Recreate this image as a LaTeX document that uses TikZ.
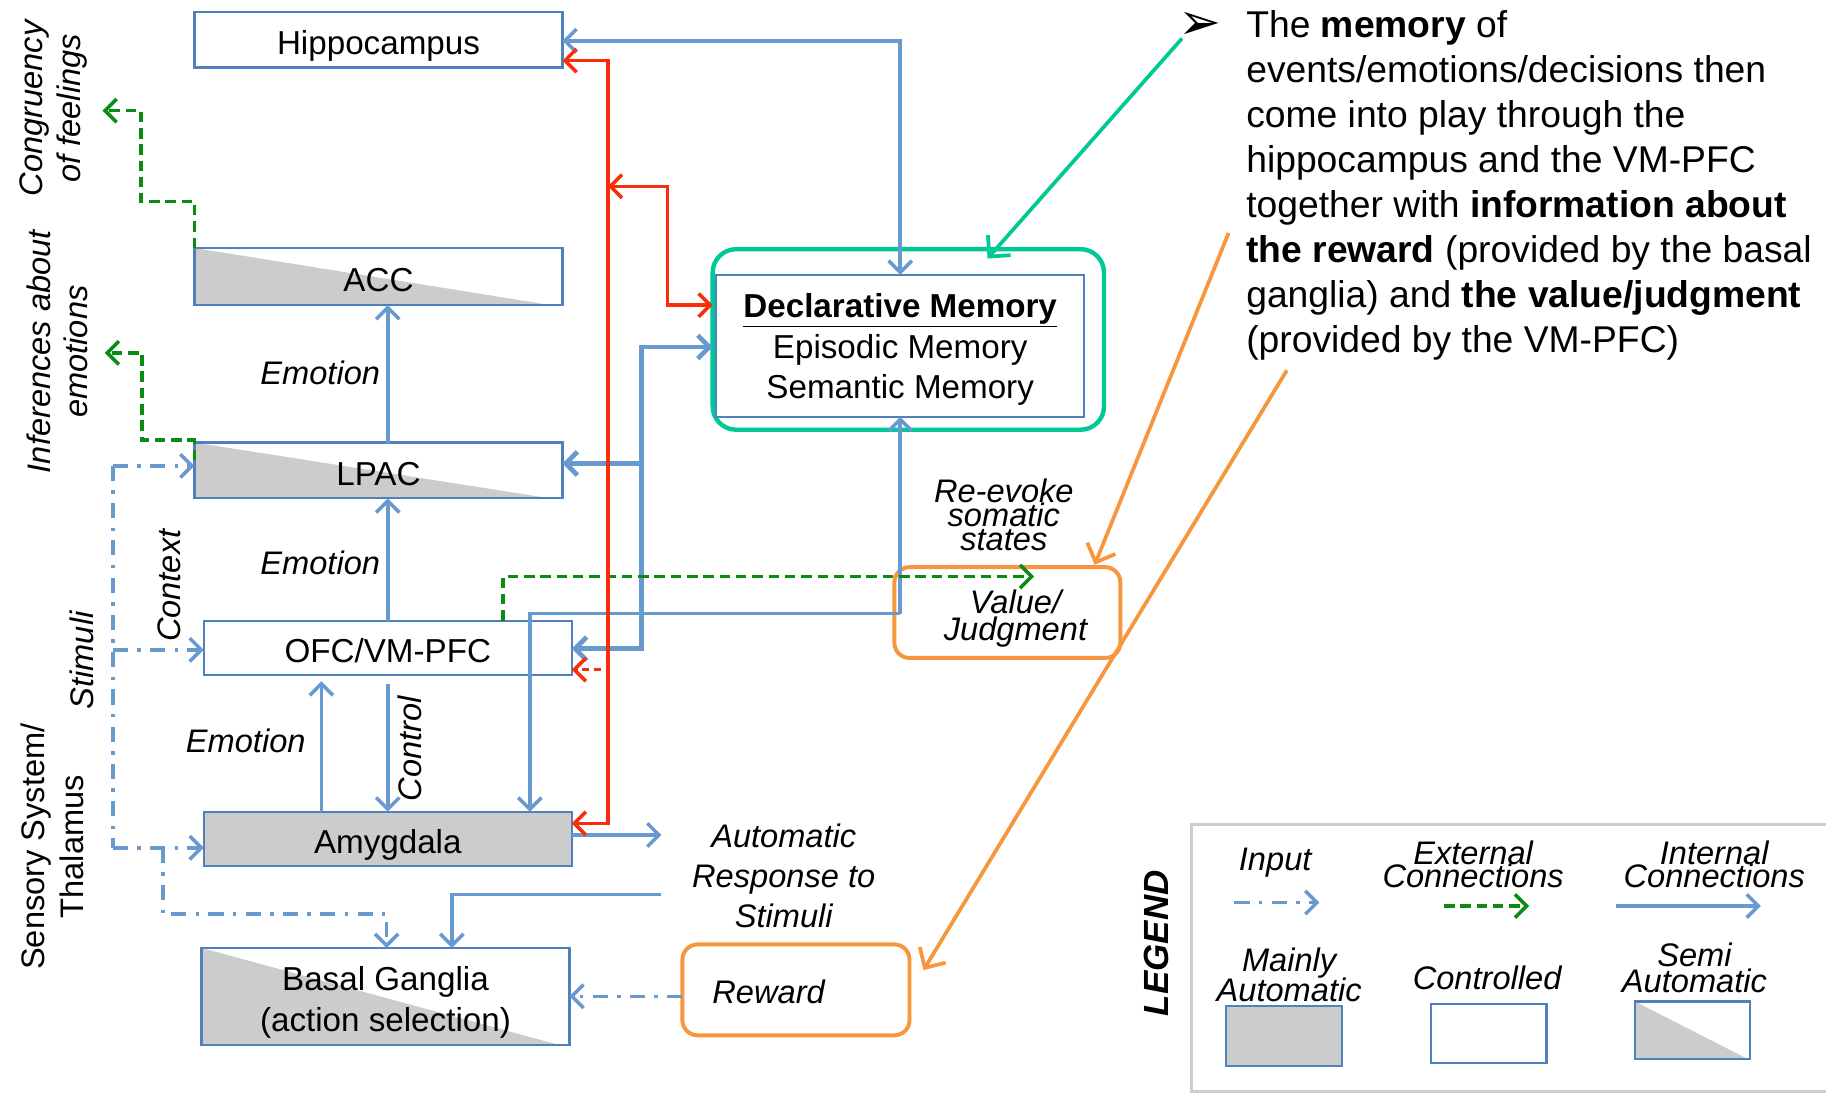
\documentclass[tikz,border=0pt]{standalone}
\usepackage{fontspec}
\setmainfont{Liberation Sans}
\newfontfamily\symfont{DejaVu Sans}
\usetikzlibrary{arrows.meta}
\definecolor{boxblue}{RGB}{79,129,189}
\definecolor{lineblue}{RGB}{104,153,207}
\definecolor{shadegray}{RGB}{204,204,204}
\definecolor{redline}{RGB}{250,45,10}
\definecolor{greenline}{RGB}{10,140,20}
\definecolor{tealline}{RGB}{0,201,150}
\definecolor{orangeline}{RGB}{247,150,60}
\definecolor{leggray}{RGB}{205,205,205}
\tikzset{
  >={Straight Barb[length=10pt,width=20pt]},
  box/.style={draw=boxblue, line width=1.8pt, minimum width=316pt, inner sep=0pt, outer sep=0pt, align=center, font=\fontsize{28.5}{35}\selectfont},
  oneline/.style={text height=27pt, text depth=2pt},
  ctrlbox/.style={box, fill=white},
  autobox/.style={box, fill=shadegray},
  semibox/.style={box, fill=white, path picture={\fill[shadegray] (path picture bounding box.north west) -- (path picture bounding box.south west) -- ([xshift=-#1]path picture bounding box.south east) -- cycle;}},
  semibox/.default=10pt,
  orbox/.style={draw=orangeline, line width=3.4pt, rounded corners=13pt, inner sep=0pt, outer sep=0pt},
  bconn/.style={draw=lineblue, line width=3pt},
  bthick/.style={draw=lineblue, line width=4pt},
  rconn/.style={draw=redline, line width=3pt},
  gconn/.style={draw=greenline, line width=3pt, dash pattern=on 9pt off 5pt},
  inconn/.style={draw=lineblue, line width=3pt, dash pattern=on 13pt off 8pt on 3pt off 8pt},
  pointer/.style={line width=3.2pt, -{Straight Barb[length=13pt,width=26pt]}},
  lab/.style={inner sep=0pt, align=center, font=\itshape\fontsize{28}{34.5}\selectfont},
  tightlab/.style={inner sep=0pt, align=center, font=\itshape\fontsize{28}{#1}\selectfont},
  uplab/.style={inner sep=0pt, align=center, font=\fontsize{28}{34}\selectfont},
}
\begin{document}
\lineskiplimit=-100pt
\lineskip=0pt
\begin{tikzpicture}[x=1pt,y=-1pt]
\useasboundingbox (0,0) rectangle (1568,941);
\fill[white] (0,0) rectangle (1568,941);

% ---------- boxes ----------
\node[ctrlbox, oneline, minimum height=48pt] (hip) at (325,34) {Hippocampus};
\node[semibox, oneline, minimum height=49pt] (acc) at (325,237.5) {ACC};
\node[semibox, oneline, minimum height=48pt] (lpac) at (325,404) {LPAC};
\node[ctrlbox, oneline, minimum height=47pt] (ofc) at (333,556.5) {OFC/VM-PFC};
\node[autobox, oneline, minimum height=47pt] (amy) at (333,720.5) {Amygdala};
\node[semibox, minimum height=83pt] (bg) at (331,855.5) {\rule{0pt}{31pt}Basal Ganglia\\(action selection)};

\node[draw=tealline, line width=3.8pt, rounded corners=20pt, minimum width=336pt, minimum height=155pt, inner sep=0pt, outer sep=0pt] (dmg) at (780,291.5) {};
\node[ctrlbox, minimum height=122pt, font=\fontsize{28.5}{34.5}\selectfont] (dm) at (773,297) {\rule{0pt}{27pt}\underline{\textbf{Declarative Memory}}\\Episodic Memory\\Semantic Memory};

\node[orbox, minimum width=194pt, minimum height=78pt] (vj) at (865,526) {};
\node[tightlab=23] (vjt) at (872,531) {Value/\\Judgment};
\node[orbox, minimum width=195pt, minimum height=78pt] (rw) at (683.5,850) {};
\node[lab] (rwt) at (660,852) {Reward};

% ---------- labels ----------
\node[lab, rotate=90, font=\itshape\fontsize{28}{32}\selectfont] (congr) at (46,93) {Congruency\\of feelings};
\node[lab, rotate=90, font=\itshape\fontsize{28}{32}\selectfont] (infer) at (49,302) {Inferences about\\emotions};
\node[uplab, rotate=90] (sens) at (45,727) {Sensory System/\\Thalamus};
\node[lab, rotate=90] (stim) at (70,567) {Stimuli};
\node[lab, rotate=90] (ctx) at (145,503) {Context};
\node[lab, rotate=90] (ctl) at (352,643) {Control};
\node[lab] (em1) at (275,320) {Emotion};
\node[lab] (em2) at (275,483) {Emotion};
\node[lab] (em3) at (211,636) {Emotion};
\node[tightlab=20.5] (reev) at (862,442) {Re-evoke\\somatic\\states};
\node[lab] (auto) at (673,752) {Automatic\\Response to\\Stimuli};

% ---------- coordinates ----------
\coordinate (hdm) at (773,35);
\coordinate (rtop) at (522,52);
\coordinate (rbot) at (522,707);
\coordinate (rmid) at (522,160);
\coordinate (rb1) at (573,160);
\coordinate (rb2) at (573,262);
\coordinate (rofc) at (516,575);
\coordinate (bt) at (551,298);
\coordinate (bl) at (551,398);
\coordinate (bb) at (551,557);
\coordinate (vjc) at (773,527);
\coordinate (amyc) at (455,527);
\coordinate (e3) at (276,650);
\coordinate (autoa) at (568,717);
\coordinate (autob) at (568,768);
\coordinate (bgc) at (388,768);
\coordinate (in1) at (97,400);
\coordinate (in2) at (97,558);
\coordinate (in3) at (97,728);
\coordinate (in4) at (140,728);
\coordinate (in5) at (140,785);
\coordinate (in6) at (332,785);
\coordinate (g1a) at (167,173);
\coordinate (g1b) at (121,173);
\coordinate (g1c) at (121,95);
\coordinate (g1d) at (88,95);
\coordinate (g2s) at (167,395);
\coordinate (g2a) at (167,378);
\coordinate (g2b) at (122,378);
\coordinate (g2c) at (122,303);
\coordinate (g2d) at (90,303);
\coordinate (g3a) at (432,495);
\coordinate (g3d) at (888,495);

% ---------- blue connections ----------
\draw[bconn, <->] (hip.east |- hdm) -- (hdm) -- (dm.north);
\draw[bconn, ->] (lpac.north -| ofc.north) -- (acc.south -| ofc.north);
\draw[bconn, ->] (ofc.north) -- (lpac.south -| ofc.north);
\draw[bconn, ->, shorten >=5pt] (amy.north -| e3) -- (ofc.south -| e3);
\draw[bconn, ->, shorten <=7pt] (ofc.south) -- (amy.north);
\draw[bconn, ->] (vjc) -- (dm.south);
\draw[bconn, ->] (vjc) -- (amyc) -- (amy.north -| amyc);
\draw[bconn, ->] (amy.east |- autoa) -- (autoa);
\draw[bconn, ->] (autob) -- (bgc) -- (bg.north -| bgc);
\draw[bthick, <->] (ofc.east |- bb) -- (bb) -- (bt) -- (dmg.west |- bt);
\draw[bthick, ->] (bl) -- (lpac.east |- bl);

% ---------- input ----------
\draw[inconn] (in1) -- (in3);
\draw[inconn, ->] (in1) -- (lpac.west |- in1);
\draw[inconn, ->] (in2) -- (ofc.west |- in2);
\draw[inconn, ->] (in3) -- (amy.west |- in3);
\draw[inconn, ->] (in4) -- (in5) -- (in6) -- (bg.north -| in6);
\draw[inconn, ->] (rw.west |- bg.east) -- (bg.east);

% ---------- green ----------
\draw[gconn, ->] (acc.north west) -- (g1a) -- (g1b) -- (g1c) -- (g1d);
\draw[gconn, ->] (g2s) -- (g2a) -- (g2b) -- (g2c) -- (g2d);
\draw[gconn, ->] (ofc.north -| g3a) -- (g3a) -- (g3d);

% ---------- red ----------
\draw[rconn, <->] (hip.east |- rtop) -- (rtop) -- (rbot) -- (amy.east |- rbot);
\draw[rconn, <->] (rmid) -- (rb1) -- (rb2) -- (dmg.west |- rb2);
\draw[rconn, dash pattern=on 6pt off 4pt, ->] (rofc) -- (ofc.east |- rofc);

% ---------- text block ----------
\node[font=\symfont\fontsize{44}{44}\selectfont, inner sep=0pt] (bullet) at (1030,22) {➢};
\node[anchor=north west, align=left, inner sep=0pt, font=\fontsize{32}{38.6}\selectfont] (para) at (1070,9) {The \textbf{memory} of\\events/emotions/decisions then\\come into play through the\\hippocampus and the VM-PFC\\together with \textbf{information about}\\\textbf{the reward} (provided by the basal\\ganglia) and \textbf{the value/judgment}\\(provided by the VM-PFC)};

\coordinate (ts) at (1015,33);
\coordinate (te) at (848,222);
\coordinate (o1s) at (1055,200);
\coordinate (o1e) at (940,485);
\coordinate (o2s) at (1105,318);
\coordinate (o2e) at (793,833);
\draw[pointer, draw=tealline] (ts) -- (te);
\draw[pointer, draw=orangeline] (o1s) -- (o1e);
\draw[pointer, draw=orangeline] (o2s) -- (o2e);

% ---------- legend ----------
\node[draw=leggray, line width=2.5pt, minimum width=562pt, minimum height=229pt, inner sep=0pt] (legbox) at (1304,822.5) {};
\node[rotate=90, inner sep=0pt, font=\bfseries\itshape\fontsize{30}{30}\selectfont] (legend) at (993,810) {LEGEND};
\node[lab] (lin) at (1095,741) {Input};
\coordinate (li1) at (1060,775);
\coordinate (li2) at (1133,775);
\draw[inconn, ->] (li1) -- (li2);
\node[tightlab=20] (lext) at (1265,742) {External\\Connections};
\coordinate (le1) at (1240,778);
\coordinate (le2) at (1313,778);
\draw[gconn, ->] (le1) -- (le2);
\node[tightlab=20] (lint) at (1472,742) {Internal\\Connections};
\coordinate (lt1) at (1388,778);
\coordinate (lt2) at (1512,778);
\draw[bconn, ->] (lt1) -- (lt2);
\node[tightlab=26] (lma) at (1107,837) {Mainly\\Automatic};
\node[autobox, minimum width=99pt, minimum height=51pt] (lmabox) at (1102.5,889.5) {};
\node[lab] (lctl) at (1277,840) {Controlled};
\node[ctrlbox, minimum width=99pt, minimum height=51pt] (lctlbox) at (1278.5,887.5) {};
\node[tightlab=22] (lsemi) at (1455,831) {Semi\\Automatic};
\node[semibox=3pt, minimum width=99pt, minimum height=49pt] (lsemibox) at (1453.5,884.5) {};
\end{tikzpicture}
\end{document}
